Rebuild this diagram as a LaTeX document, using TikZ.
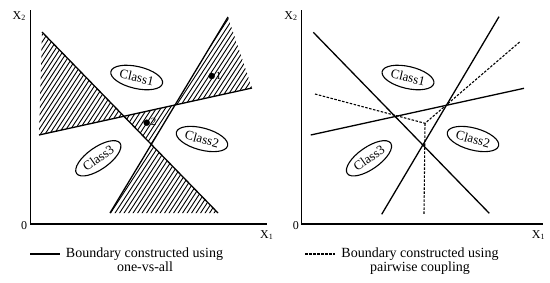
\documentclass[tikz,border=0pt]{standalone}
\usepackage{fontspec}
\setmainfont{Liberation Serif}
\usetikzlibrary{shapes.geometric}
\begin{document}
\begin{tikzpicture}[x=1pt,y=-1pt,
  every node/.style={font=\fontsize{14}{14.5}\selectfont},
  axislbl/.style={inner sep=0pt,font=\fontsize{12}{12}\selectfont},
  bound/.style={line width=1.3pt},
  axisline/.style={line width=1.4pt},
  pairline/.style={line width=1.1pt,dash pattern=on 2.5pt off 1.5pt},
  hatchline/.style={line width=0.9pt},
  classlbl/.style={draw,ellipse,line width=1.1pt,inner sep=0pt,minimum height=22pt,minimum width=53pt,font=\fontsize{13}{13}\selectfont}]
\useasboundingbox (0,0) rectangle (550,282);
% left panel: one-vs-all
\coordinate (ytopL) at (30.5,10);
\coordinate (oL) at (30.5,224);
\coordinate (xendL) at (267,224);
\coordinate (a1) at (42,32);
\coordinate (a2) at (218,213);
\coordinate (b1) at (110,213);
\coordinate (b2) at (228,17);
\coordinate (c1) at (39,135);
\coordinate (c2) at (252,88);
\coordinate (ac) at (intersection of a1--a2 and c1--c2);
\coordinate (bc) at (intersection of b1--b2 and c1--c2);
\coordinate (ab) at (intersection of a1--a2 and b1--b2);
\begin{scope}
\clip (a1) -- (ac) -- (c1) -- cycle
      (b2) -- (bc) -- (c2) -- cycle
      (ac) -- (bc) -- (ab) -- cycle
      (ab) -- (a2) -- (b1) -- cycle;
\foreach \s in {-130,-125.5,...,265}
  \draw[hatchline] (\s,230) -- ++(150,-230);
\end{scope}
\draw[axisline] (ytopL) -- (oL) -- (xendL);
\draw[bound] (a1) -- (a2);
\draw[bound] (b1) -- (b2);
\draw[bound] (c1) -- (c2);
\draw[fill] (211.7,76) circle[radius=3];
\node[font=\fontsize{11}{11}\selectfont] (one) at (218.5,76) {1};
\draw[fill] (146.7,122.7) circle[radius=3];
\node[font=\fontsize{11}{11}\selectfont] (two) at (153.5,122) {2};
\node[classlbl,rotate=-13] (clsAa) at (136.7,77.5) {Class1};
\node[classlbl,rotate=-15] (clsAb) at (202,139) {Class2};
\node[classlbl,rotate=35] (clsAc) at (98.3,158.3) {Class3};
\node[axislbl,anchor=north east] (xtwoL) at (26,11) {X\textsubscript{2}};
\node[axislbl] (zeroL) at (24.2,226) {0};
\node[axislbl,anchor=north west] (xoneL) at (260,230) {X\textsubscript{1}};
\coordinate (legA1) at (30,254);
\coordinate (legA2) at (60,254);
\draw[bound] (legA1) -- (legA2);
\node[anchor=base] (legAtxt) at (144.5,257) {Boundary constructed using};
\node[anchor=base] (legAtxt2) at (145,271.5) {one-vs-all};
% right panel: pairwise coupling
\coordinate (ytopR) at (301.7,10);
\coordinate (oR) at (301.7,224);
\coordinate (xendR) at (543,224);
\coordinate (d1) at (313.3,32.3);
\coordinate (d2) at (489.3,213.3);
\coordinate (e1) at (381.7,214.3);
\coordinate (e2) at (499,16.7);
\coordinate (f1) at (310.7,135);
\coordinate (f2) at (524,88.3);
\coordinate (jn) at (425,123.3);
\coordinate (g1) at (315,94);
\coordinate (g2) at (520,41.7);
\coordinate (g3) at (424,214);
\draw[axisline] (ytopR) -- (oR) -- (xendR);
\draw[bound] (d1) -- (d2);
\draw[bound] (e1) -- (e2);
\draw[bound] (f1) -- (f2);
\draw[pairline] (g1) -- (jn) -- (g2);
\draw[pairline] (jn) -- (g3);
\node[classlbl,rotate=-13] (clsBa) at (408,77.5) {Class1};
\node[classlbl,rotate=-15] (clsBb) at (473,139) {Class2};
\node[classlbl,rotate=35] (clsBc) at (369,158.3) {Class3};
\node[axislbl,anchor=north east] (xtwoR) at (297.7,11) {X\textsubscript{2}};
\node[axislbl] (zeroR) at (295.8,226) {0};
\node[axislbl,anchor=north west] (xoneR) at (531.7,230) {X\textsubscript{1}};
\coordinate (legB1) at (305,254);
\coordinate (legB2) at (335,254);
\draw[pairline] (legB1) -- (legB2);
\node[anchor=base] (legBtxt) at (420,257) {Boundary constructed using};
\node[anchor=base] (legBtxt2) at (420,271.5) {pairwise coupling};
\end{tikzpicture}
\end{document}
